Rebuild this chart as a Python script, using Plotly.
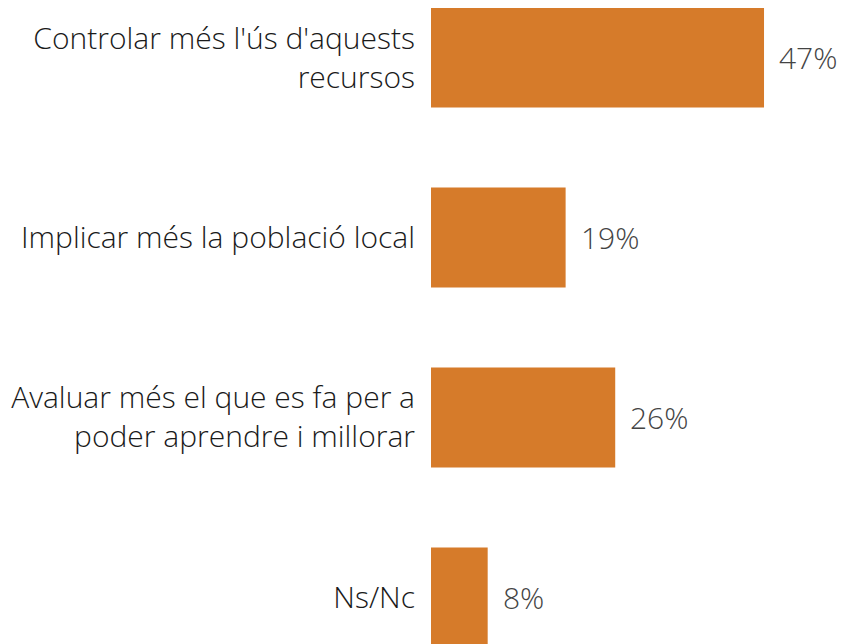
import plotly.graph_objects as go

categories = [
    "Controlar més l'ús d'aquests<br>recursos",
    "Implicar més la població local",
    "Avaluar més el que es fa per a<br>poder aprendre i millorar",
    "Ns/Nc",
]
values = [47, 19, 26, 8]
value_labels = ["47%", "19%", "26%", "8%"]

FONT = "Open Sans, Noto Sans, sans-serif"

fig = go.Figure()
fig.add_trace(go.Bar(
    x=values,
    y=list(range(len(categories))),
    orientation="h",
    width=0.556,
    marker=dict(color="#D67B2A", line=dict(width=0)),
    hoverinfo="skip",
))

for v, lab, i in zip(values, value_labels, range(len(categories))):
    fig.add_annotation(
        x=v, y=i, text=lab, showarrow=False,
        xanchor="left", yanchor="middle", xshift=13,
        font=dict(family=FONT, size=30, color="#444444", weight=300),
    )

fig.update_layout(
    width=846, height=644,
    margin=dict(l=423, r=0, t=0, b=0),
    paper_bgcolor="white", plot_bgcolor="white",
    showlegend=False,
    font=dict(family=FONT, size=30, color="#1a1a1a"),
    xaxis=dict(range=[0, 59.7], visible=False, showgrid=False, zeroline=False),
    yaxis=dict(
        range=[3.303, -0.275],
        tickmode="array",
        tickvals=list(range(len(categories))),
        ticktext=categories,
        showgrid=False, zeroline=False, showline=False,
        ticks="outside", ticklen=9, tickcolor="rgba(0,0,0,0)",
        tickfont=dict(family=FONT, size=30, color="#1a1a1a", weight=300),
    ),
)

fig.write_html("out.html")
